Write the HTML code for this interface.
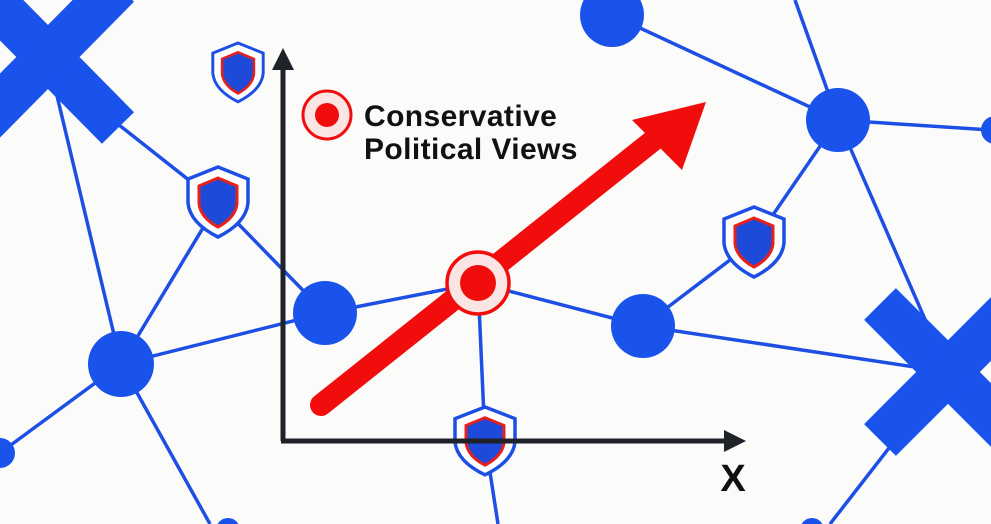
<!DOCTYPE html>
<html><head><meta charset="utf-8"><style>
html,body{margin:0;padding:0;background:#fbfbfa;}
svg{display:block}
</style></head><body>
<svg width="991" height="524" viewBox="0 0 991 524" xmlns="http://www.w3.org/2000/svg">
<defs>
<g id="sh">
<path d="M0,0 L30,12 L30,36 Q28,56 0,70 Q-28,56 -30,36 L-30,12 Z" fill="#fff" stroke="#1d4fe4" stroke-width="3.5"/>
<path d="M0,11 L19,19 L19,37 Q17,51 0,60 Q-17,51 -19,37 L-19,19 Z" fill="#1d4ad8" stroke="#e8201c" stroke-width="3"/>
</g>
</defs>
<rect width="991" height="524" fill="#fbfbfa"/>
<g stroke="#1d4fe4" stroke-width="3.5" fill="none">
<line x1="48" y1="58" x2="121" y2="364"/>
<line x1="100" y1="110" x2="218" y2="203"/>
<line x1="218" y1="203" x2="121" y2="364"/>
<line x1="218" y1="203" x2="325" y2="313"/>
<line x1="121" y1="364" x2="325" y2="313"/>
<line x1="121" y1="364" x2="0" y2="453"/>
<line x1="121" y1="364" x2="210" y2="524"/>
<line x1="325" y1="313" x2="478" y2="283"/>
<line x1="478" y1="283" x2="643" y2="326"/>
<line x1="478" y1="283" x2="485" y2="440"/>
<line x1="485" y1="440" x2="498" y2="524"/>
<line x1="612" y1="15" x2="838" y2="120"/>
<line x1="838" y1="120" x2="795" y2="0"/>
<line x1="838" y1="120" x2="991" y2="130"/>
<line x1="838" y1="120" x2="755" y2="241"/>
<line x1="755" y1="241" x2="643" y2="326"/>
<line x1="838" y1="120" x2="948" y2="372"/>
<line x1="643" y1="326" x2="948" y2="372"/>
<line x1="948" y1="372" x2="830" y2="524"/>
</g>
<g stroke="#1a52ec" stroke-width="45" stroke-linecap="butt">
<line x1="-30" y1="-22" x2="118" y2="128"/>
<line x1="-30" y1="136" x2="118" y2="-14"/>
<line x1="880" y1="304" x2="1030" y2="454"/>
<line x1="880" y1="440" x2="1030" y2="290"/>
</g>
<g fill="#1a52ec">
<circle cx="612" cy="15" r="32"/>
<circle cx="838" cy="120" r="32"/>
<circle cx="995" cy="130" r="14"/>
<circle cx="643" cy="326" r="32"/>
<circle cx="325" cy="313" r="32"/>
<circle cx="121" cy="364" r="33"/>
<circle cx="0" cy="453" r="15"/>
<circle cx="228" cy="530" r="12"/>
<circle cx="812" cy="530" r="12"/>
</g>
<use href="#sh" transform="translate(238,43) scale(0.84)"/>
<use href="#sh" transform="translate(218,167)"/>
<use href="#sh" transform="translate(754,207)"/>
<use href="#sh" transform="translate(485,407) scale(1,0.97)"/>
<g stroke="#1f2329" stroke-width="5" fill="none">
<line x1="283" y1="65" x2="283" y2="441"/>
<line x1="281" y1="441" x2="730" y2="441"/>
</g>
<polygon points="283,48 272,70 294,70" fill="#1f2329"/>
<polygon points="746,441 724,430 724,452" fill="#1f2329"/>
<text x="733" y="491" font-family="Liberation Sans, sans-serif" font-weight="bold" font-size="38" text-anchor="middle" fill="#111">X</text>
<line x1="321" y1="405" x2="660" y2="135" stroke="#f20d0d" stroke-width="22" stroke-linecap="round"/>
<polygon points="706,102 632,120 682,170" fill="#f20d0d"/>
<circle cx="478" cy="283" r="31" fill="#fbe4e4" stroke="#f20d0d" stroke-width="3.5"/>
<circle cx="478" cy="283" r="18" fill="#f20d0d"/>
<circle cx="327" cy="115" r="24" fill="#fbe4e4" stroke="#f20d0d" stroke-width="3"/>
<circle cx="327" cy="115" r="12" fill="#f20d0d"/>
<text font-family="Liberation Sans, sans-serif" font-size="30" fill="#111" font-weight="bold" letter-spacing="0.4">
<tspan x="364" y="126">Conservative</tspan>
<tspan x="364" y="159">Political Views</tspan>
</text>
</svg>
</body></html>
